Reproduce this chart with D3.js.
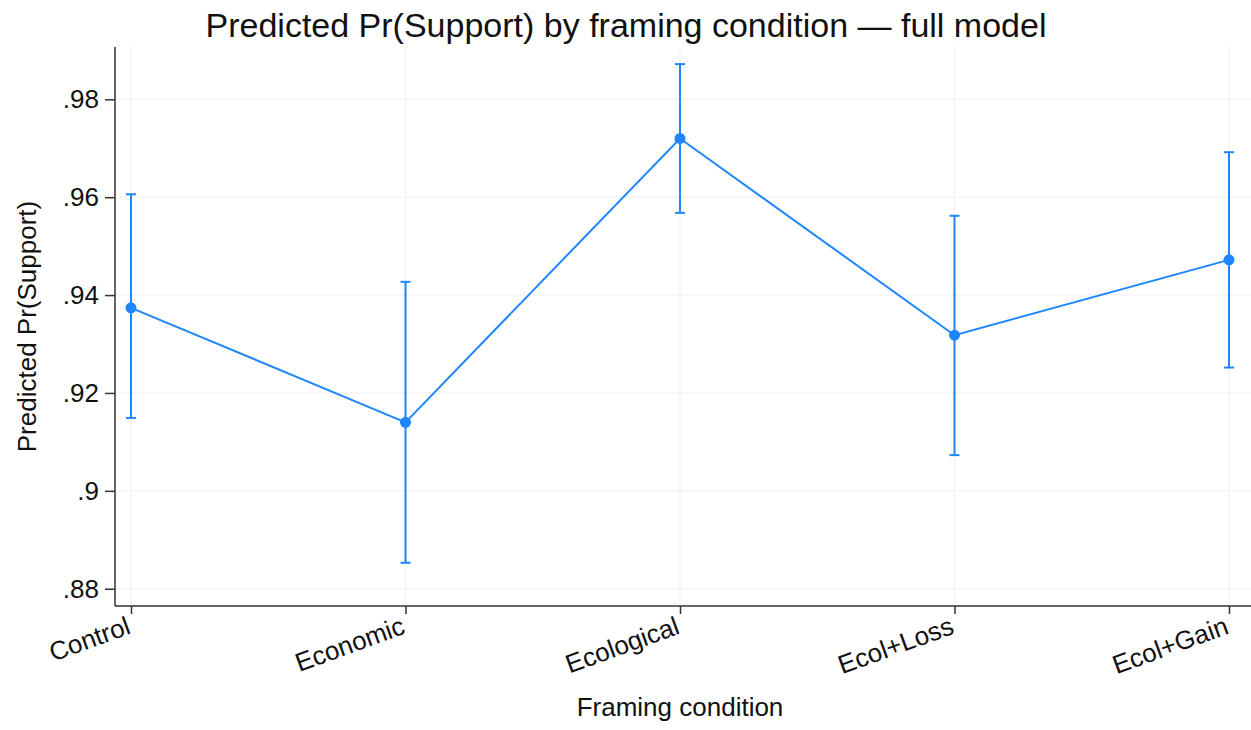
<!DOCTYPE html>
<html>
<head>
<meta charset="utf-8">
<script src="https://cdn.jsdelivr.net/npm/d3@7"></script>
<style>
  html, body { margin: 0; padding: 0; background: #fff; }
  svg { display: block; font-family: "Liberation Sans", Arial, sans-serif; }
</style>
</head>
<body>
<svg id="chart" width="1251" height="730"></svg>
<script>
// Framing conditions and predicted probabilities with 95% CIs
const conditions = ["Control", "Economic", "Ecological", "Ecol+Loss", "Ecol+Gain"];
const predicted  = [0.9374, 0.9140, 0.9720, 0.9318, 0.9472];
const ciLower    = [0.9149, 0.8853, 0.9568, 0.9073, 0.9252];
const ciUpper    = [0.9606, 0.9427, 0.9872, 0.9562, 0.9692];
const yTicks     = [0.88, 0.90, 0.92, 0.94, 0.96, 0.98];
const yTickLabels = [".88", ".9", ".92", ".94", ".96", ".98"];

const svg = d3.select("#chart");
const plotLeft = 115, plotRight = 1251, plotTop = 47, plotBottom = 606;
const color = "#1e86ff";
const font = "Liberation Sans, Arial, sans-serif";

const x = d3.scalePoint().domain(conditions).range([131, 1229]);
const y = d3.scaleLinear().domain([0.87647, 0.99069]).range([plotBottom, plotTop]);

// faint grid
const grid = svg.append("g");
grid.selectAll("line.h").data(yTicks).join("line")
  .attr("x1", plotLeft).attr("x2", plotRight)
  .attr("y1", d => y(d)).attr("y2", d => y(d))
  .attr("stroke", "#f6f6f6").attr("stroke-width", 2);
grid.selectAll("line.v").data(conditions).join("line")
  .attr("x1", d => x(d)).attr("x2", d => x(d))
  .attr("y1", plotTop).attr("y2", plotBottom)
  .attr("stroke", "#f6f6f6").attr("stroke-width", 2);

// y axis
const yAxis = svg.append("g")
  .attr("transform", `translate(${plotLeft},0)`)
  .call(d3.axisLeft(y).tickValues(yTicks)
    .tickFormat((d, i) => yTickLabels[i]).tickSize(10).tickPadding(6));
yAxis.select(".domain").attr("d", `M0,${plotTop}V${plotBottom}`).attr("stroke", "#333").attr("stroke-width", 1.5);
yAxis.selectAll(".tick line").attr("stroke", "#333").attr("stroke-width", 1.5);
yAxis.selectAll(".tick text").attr("font-size", 26).attr("fill", "#111")
  .attr("font-family", font);

// x axis
const xAxis = svg.append("g")
  .attr("transform", `translate(0,${plotBottom})`)
  .call(d3.axisBottom(x).tickSize(8).tickPadding(4));
xAxis.select(".domain").attr("d", `M${plotLeft},0H${plotRight}`).attr("stroke", "#333").attr("stroke-width", 1.5);
xAxis.selectAll(".tick line").attr("stroke", "#333").attr("stroke-width", 1.5);
xAxis.selectAll(".tick text")
  .attr("font-size", 26).attr("fill", "#111")
  .attr("font-family", font)
  .attr("text-anchor", "end")
  .attr("dy", null)
  .attr("y", 0)
  .attr("transform", "translate(-5,12) rotate(-20) translate(0,16)");

// confidence intervals
const ci = svg.append("g");
conditions.forEach((c, i) => {
  const cx = x(c);
  ci.append("line").attr("x1", cx).attr("x2", cx)
    .attr("y1", y(ciLower[i])).attr("y2", y(ciUpper[i]))
    .attr("stroke", color).attr("stroke-width", 2);
  [ciLower[i], ciUpper[i]].forEach(v => {
    ci.append("line").attr("x1", cx - 5).attr("x2", cx + 5)
      .attr("y1", y(v)).attr("y2", y(v))
      .attr("stroke", color).attr("stroke-width", 2);
  });
});

// connecting line
svg.append("path")
  .datum(predicted)
  .attr("fill", "none").attr("stroke", color).attr("stroke-width", 2)
  .attr("d", d3.line().x((d, i) => x(conditions[i])).y(d => y(d)));

// points
svg.append("g").selectAll("circle").data(predicted).join("circle")
  .attr("cx", (d, i) => x(conditions[i])).attr("cy", d => y(d))
  .attr("r", 5.5).attr("fill", color);

// titles
svg.append("text").attr("x", 626).attr("y", 37)
  .attr("text-anchor", "middle").attr("font-size", 34).attr("fill", "#111")
  .attr("font-family", font)
  .text("Predicted Pr(Support) by framing condition \u2014 full model");

svg.append("text").attr("x", 680).attr("y", 716)
  .attr("text-anchor", "middle").attr("font-size", 26).attr("fill", "#111")
  .attr("font-family", font)
  .text("Framing condition");

svg.append("text")
  .attr("transform", `translate(36,${(plotTop + plotBottom) / 2}) rotate(-90)`)
  .attr("text-anchor", "middle").attr("font-size", 26).attr("fill", "#111")
  .attr("font-family", font)
  .text("Predicted Pr(Support)");
</script>
</body>
</html>
